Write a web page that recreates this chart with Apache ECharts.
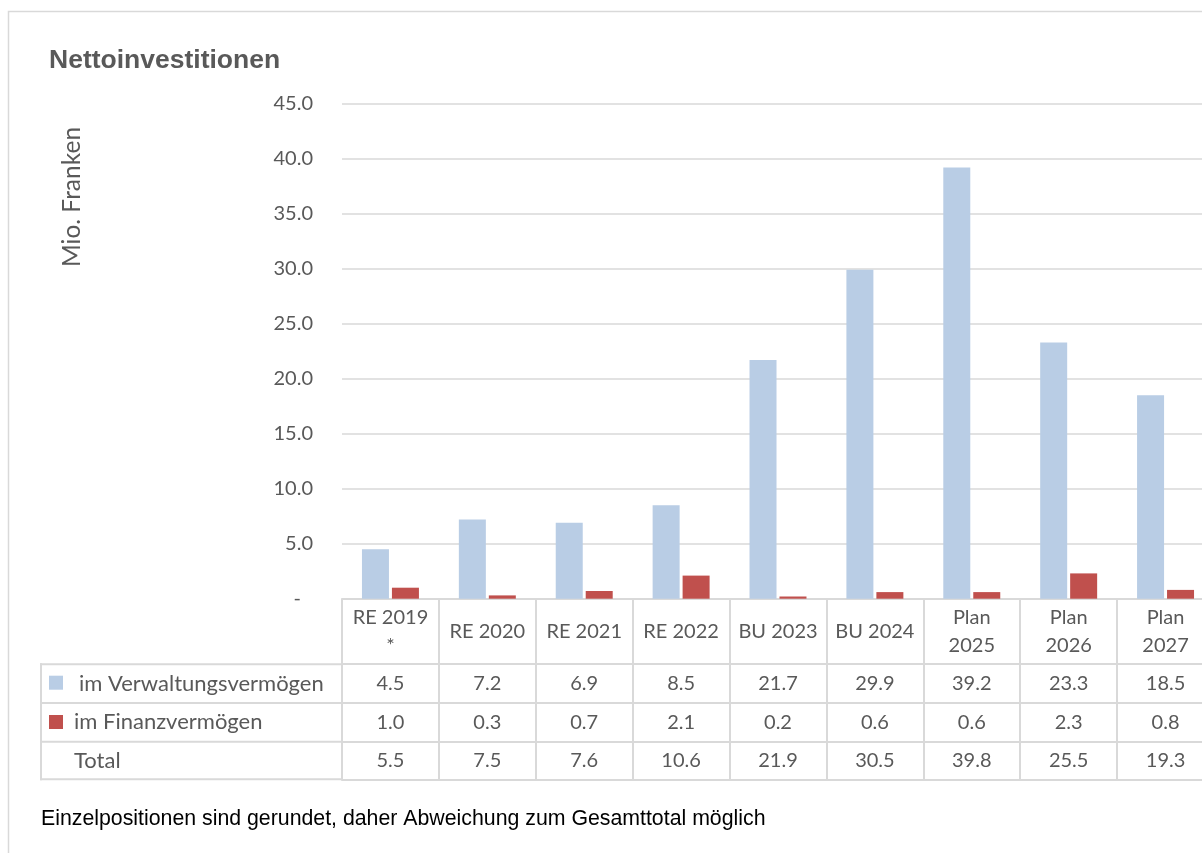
<!DOCTYPE html>
<html>
<head>
<meta charset="utf-8">
<script src="https://cdn.jsdelivr.net/npm/echarts@6/dist/echarts.min.js"></script>
<style>
  html, body { margin: 0; padding: 0; background: #ffffff; }
  #chart { width: 1202px; height: 853px; }
</style>
</head>
<body>
<div id="chart"></div>
<script>
const categories = ['RE 2019\n*', 'RE 2020', 'RE 2021', 'RE 2022', 'BU 2023', 'BU 2024', 'Plan\n2025', 'Plan\n2026', 'Plan\n2027'];
const verwaltung = [4.5, 7.2, 6.9, 8.5, 21.7, 29.9, 39.2, 23.3, 18.5];
const finanz = [1.0, 0.3, 0.7, 2.1, 0.2, 0.6, 0.6, 2.3, 0.8];
const total = [5.5, 7.5, 7.6, 10.6, 21.9, 30.5, 39.8, 25.5, 19.3];
const seriesNames = ['im Verwaltungsvermögen', 'im Finanzvermögen', 'Total'];
const yMin = 0, yMax = 45, yStep = 5;

const textColor = '#595959';
const borderColor = '#d9d9d9';
const blue = '#b9cde5';
const red = '#c0504d';
const uiFont = 'Lato';

const chart = echarts.init(document.getElementById('chart'), null, { renderer: 'canvas' });

function valueAxis(values, offset, margin) {
  return {
    type: 'category',
    data: categories,
    position: 'bottom',
    offset: offset,
    gridIndex: 0,
    axisLine: { show: true, lineStyle: { color: borderColor, width: 2 } },
    axisTick: { show: false },
    axisLabel: {
      show: values !== null,
      interval: 0,
      margin: margin,
      verticalAlign: 'middle',
      fontFamily: uiFont,
      fontSize: 20,
      color: textColor,
      formatter: function (v, i) { return values ? values[i].toFixed(1) : ''; }
    }
  };
}

const option = {
  animation: false,
  backgroundColor: '#ffffff',
  grid: { left: 342, top: 103.7, width: 872, bottom: 254.3, outerBoundsMode: 'none', containLabel: false },
  xAxis: [
    {
      type: 'category',
      data: categories,
      position: 'bottom',
      offset: 0,
      axisLine: { show: true, lineStyle: { color: borderColor, width: 2 } },
      axisTick: { show: true, interval: 0, length: 180.5, lineStyle: { color: borderColor, width: 2 } },
      axisLabel: {
        interval: 0,
        margin: 33,
        verticalAlign: 'middle',
        lineHeight: 28,
        fontFamily: uiFont,
        fontSize: 20,
        color: textColor
      }
    },
    valueAxis(verwaltung, 65.3, 19.2),
    valueAxis(finanz, 104, 19.5),
    valueAxis(total, 143, 18.8),
    valueAxis(null, 180.6, 10)
  ],
  yAxis: {
    type: 'value',
    min: yMin,
    max: yMax,
    interval: yStep,
    axisLine: { show: false },
    axisTick: { show: false },
    splitLine: { show: true, lineStyle: { color: borderColor, width: 1.5 } },
    axisLabel: {
      margin: 29,
      fontFamily: uiFont,
      fontSize: 20,
      color: textColor,
      formatter: function (v) { return v === 0 ? '{d|-}' : v.toFixed(1); },
      rich: { d: { fontFamily: uiFont, fontSize: 20, color: textColor, padding: [0, 12, 0, 0] } }
    }
  },
  series: [
    {
      name: seriesNames[0], type: 'bar', data: verwaltung, xAxisIndex: 0,
      barWidth: 27, barGap: '11%', itemStyle: { color: blue }
    },
    {
      name: seriesNames[1], type: 'bar', data: finanz, xAxisIndex: 0,
      barWidth: 27, barGap: '11%', itemStyle: { color: red }
    }
  ],
  graphic: [
    { type: 'rect', silent: true, shape: { x: 8.5, y: 11.5, width: 1400, height: 1000 },
      style: { fill: 'none', stroke: borderColor, lineWidth: 1.5 } },
    { type: 'text', silent: true, x: 49, y: 60.5,
      style: { text: 'Nettoinvestitionen', font: 'bold 26.5px "Liberation Sans", Arial, sans-serif',
               fill: textColor, align: 'left', verticalAlign: 'middle' } },
    { type: 'text', silent: true, x: 72, y: 197, rotation: Math.PI / 2,
      style: { text: 'Mio. Franken', font: '24.5px Lato, sans-serif', fill: textColor,
               align: 'center', verticalAlign: 'middle' } },
    // left label column of the data table
    { type: 'line', silent: true, shape: { x1: 40, y1: 664.3, x2: 342, y2: 664.3 }, style: { stroke: borderColor, lineWidth: 2 } },
    { type: 'line', silent: true, shape: { x1: 40, y1: 703, x2: 342, y2: 703 }, style: { stroke: borderColor, lineWidth: 2 } },
    { type: 'line', silent: true, shape: { x1: 40, y1: 741.7, x2: 342, y2: 741.7 }, style: { stroke: borderColor, lineWidth: 2 } },
    { type: 'line', silent: true, shape: { x1: 40, y1: 779.3, x2: 342, y2: 779.3 }, style: { stroke: borderColor, lineWidth: 2 } },
    { type: 'line', silent: true, shape: { x1: 41, y1: 663.3, x2: 41, y2: 780.3 }, style: { stroke: borderColor, lineWidth: 2 } },
    { type: 'rect', silent: true, shape: { x: 49, y: 675.7, width: 14, height: 14 }, style: { fill: blue } },
    { type: 'rect', silent: true, shape: { x: 49, y: 715, width: 14, height: 14 }, style: { fill: red } },
    { type: 'text', silent: true, x: 79, y: 683.5,
      style: { text: seriesNames[0], font: '22px Lato, sans-serif', fill: textColor, align: 'left', verticalAlign: 'middle' } },
    { type: 'text', silent: true, x: 74, y: 722.3,
      style: { text: seriesNames[1], font: '22px Lato, sans-serif', fill: textColor, align: 'left', verticalAlign: 'middle' } },
    { type: 'text', silent: true, x: 74, y: 760.5,
      style: { text: seriesNames[2], font: '22px Lato, sans-serif', fill: textColor, align: 'left', verticalAlign: 'middle' } },
    { type: 'text', silent: true, x: 41, y: 819.5,
      style: { text: 'Einzelpositionen sind gerundet, daher Abweichung zum Gesamttotal möglich',
               font: '21.3px "Liberation Sans", Arial, sans-serif', fill: '#000000', align: 'left', verticalAlign: 'middle' } }
  ]
};

chart.setOption(option);
</script>
</body>
</html>
